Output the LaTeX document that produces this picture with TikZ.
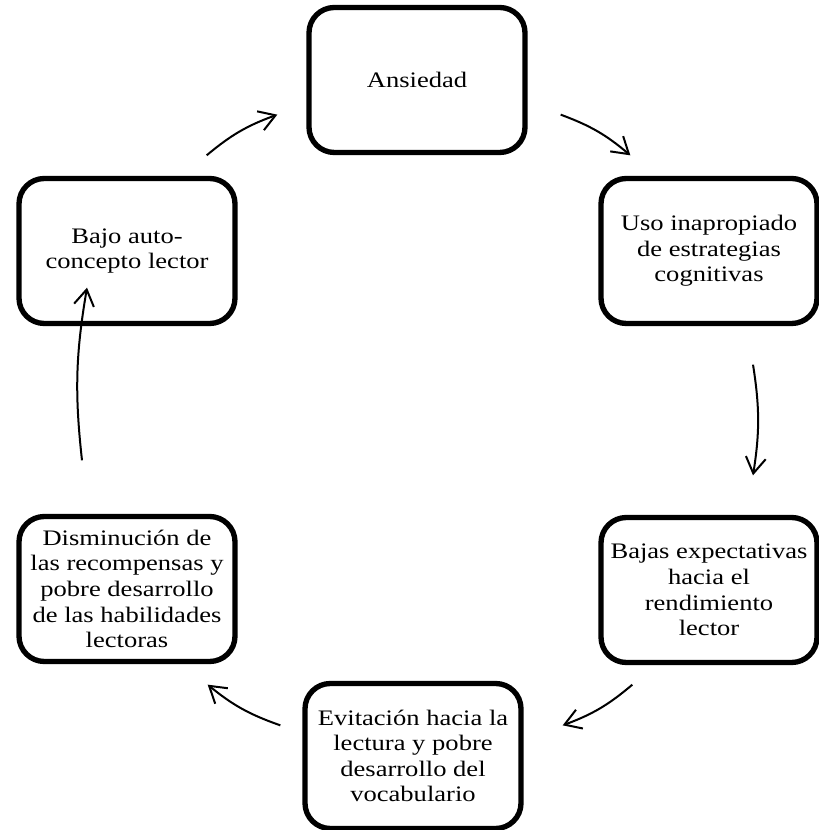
\documentclass[tikz,border=0pt]{standalone}
\usepackage{fontspec}
\setmainfont{Liberation Serif}[FakeStretch=1.2]
\usetikzlibrary{arrows.meta}

\tikzset{
  caja/.style={draw, line width=4pt, rounded corners=19pt,
    minimum width=162pt, minimum height=108.75pt, inner sep=4pt,
    align=center, font=\fontsize{16.6}{19.2}\selectfont},
  flecha/.style={->, line width=1.5pt}
}

\begin{document}
\begin{tikzpicture}[x=0.75pt, y=0.75pt, >={Straight Barb[length=12pt,width=15pt]}]

		\useasboundingbox (0,0) rectangle (818,830);

		% --- Cajas del ciclo
		\node[caja] (ans)  at (417,750) {Ansiedad};
		\node[caja] (uso)  at (709,579) {Uso inapropiado\\de estrategias\\cognitivas};
		\node[caja] (baj)  at (709,240) {Bajas expectativas\\hacia el\\rendimiento\\lector};
		\node[caja] (evi)  at (413,74)  {Evitación hacia la\\lectura y pobre\\desarrollo del\\vocabulario};
		\node[caja] (dis)  at (127,241) {Disminución de\\las recompensas y\\pobre desarrollo\\de las habilidades\\lectoras};
		\node[caja] (bajo) at (127,579) {Bajo auto-\\concepto lector};

		% --- Flechas (sentido horario)
		\draw[flecha] ([shift={(-31,20.5)}]bajo.north east) to[bend left=10] ([shift={(-29,40.5)}]ans.south west);
		\draw[flecha] ([shift={(33,40.5)}]ans.south east) to[bend left=10] ([shift={(32,20.5)}]uso.north west);
		\draw[flecha] ([shift={(44,-38.5)}]uso.south) to[bend left=9] ([shift={(44,39.5)}]baj.north);
		\draw[flecha] ([shift={(34,-19.5)}]baj.south west) to[bend left=10] ([shift={(39,-44.5)}]evi.north east);
		\draw[flecha] ([shift={(-22,-44.5)}]evi.north west) to[bend left=10] ([shift={(-30,-20.5)}]dis.south east);
		\draw[flecha] ([shift={(-45,53.5)}]dis.north) to[bend left=8] ([shift={(-40,38.5)}]bajo.south);

	\end{tikzpicture}
\end{document}
